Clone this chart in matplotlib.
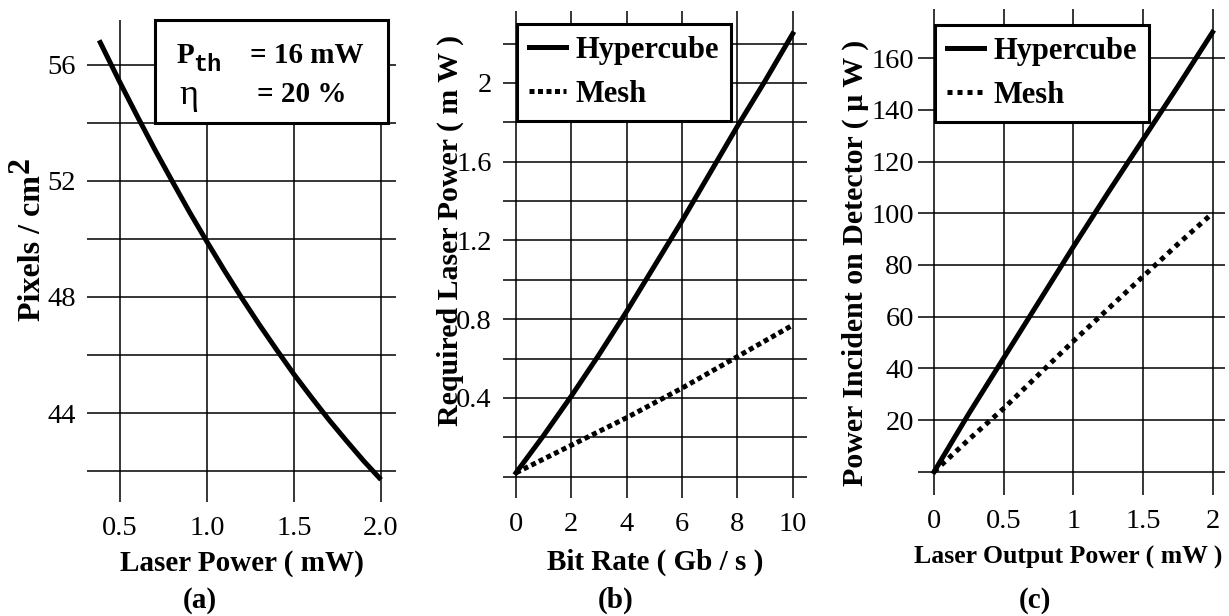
import matplotlib.pyplot as plt
from matplotlib.patches import Rectangle

plt.rcParams['font.family'] = ['Liberation Serif', 'DejaVu Serif']

# (a) pixel density vs laser power
power_a = [0.38, 0.5, 0.6, 0.7, 0.8, 0.9, 1.0, 1.1, 1.2, 1.3, 1.4, 1.5,
           1.6, 1.7, 1.8, 1.9, 2.0]
pixels_a = [56.85, 55.39, 54.22, 53.08, 51.99, 50.92, 49.9, 48.91, 47.96,
            47.05, 46.18, 45.33, 44.54, 43.77, 43.05, 42.35, 41.7]

# (b) required laser power vs bit rate
bitrate = [0, 1, 2, 3, 4, 5, 6, 7, 8, 9, 10]
hyper_b = [0.02, 0.21, 0.41, 0.62, 0.84, 1.07, 1.3, 1.54, 1.78, 2.01, 2.25]
mesh_b = [0.02, 0.09, 0.16, 0.23, 0.30, 0.375, 0.45, 0.53, 0.61, 0.69, 0.77]

# (c) power on detector vs laser output power
laser_c = [0, 0.25, 0.5, 0.75, 1.0, 1.25, 1.5, 1.75, 2.0]
hyper_c = [0, 22.5, 44, 65.5, 87, 108, 128.5, 149, 170]
mesh_c = [0, 12.5, 24.5, 37.5, 50.5, 63, 75.5, 88, 100]

BOLD = dict(fontsize=21, fontweight='bold')
LW = 3.6

fig = plt.figure(figsize=(12.29, 6.16), dpi=100)
ax_a = fig.add_axes([0.0708, 0.185, 0.2514, 0.7825])
ax_b = fig.add_axes([0.4093, 0.1916, 0.2474, 0.790])
ax_c = fig.add_axes([0.747, 0.1964, 0.2498, 0.789])


def style(ax, ypad=8):
    for s in ax.spines.values():
        s.set_visible(False)
    ax.grid(True, color='black', lw=1.1)
    ax.set_axisbelow(True)
    ax.tick_params(length=0, labelsize=20.5)
    ax.tick_params(axis='x', pad=10)
    ax.tick_params(axis='y', pad=ypad)


# ---- (a)
style(ax_a)
ax_a.plot(power_a, pixels_a, color='black', lw=LW, solid_capstyle='butt')
ax_a.set_xlim(0.31, 2.086)
ax_a.set_ylim(40.93, 57.55)
ax_a.set_xticks([0.5, 1.0, 1.5, 2.0], ['0.5', '1.0', '1.5', '2.0'])
ax_a.set_yticks(range(42, 57, 2), ['', '44', '', '48', '', '52', '', '56'])
ax_a.set_xlabel('Laser Power ( mW)', va='center', **BOLD)
ax_a.xaxis.set_label_coords(0.5, -0.127)
ax_a.set_ylabel('Pixels / cm', va='center', fontsize=23, fontweight='bold')
ax_a.yaxis.set_label_coords(-0.178, 0.527)
ax_a.text(-0.2136, 0.70, '2', rotation=90, ha='center', va='center',
          transform=ax_a.transAxes, fontsize=23, fontweight='bold')
ax_a.add_patch(Rectangle((0.22, 0.786), 0.754, 0.214, transform=ax_a.transAxes,
                         fc='white', ec='black', lw=2.2, zorder=4, clip_on=False))
ax_a.text(0.291, 0.911, 'P', transform=ax_a.transAxes, ha='left', va='baseline',
          zorder=5, **BOLD)
ax_a.text(0.345, 0.895, 'th', transform=ax_a.transAxes, ha='left', va='baseline',
          family='Liberation Mono', fontsize=17, fontweight='bold', zorder=5)
ax_a.text(0.527, 0.911, '= 16 mW', transform=ax_a.transAxes, ha='left',
          va='baseline', zorder=5, **BOLD)
ax_a.text(0.300, 0.825, 'η', transform=ax_a.transAxes, ha='left', va='baseline',
          fontsize=26, zorder=5)
ax_a.text(0.55, 0.83, '= 20 %', transform=ax_a.transAxes, ha='left',
          va='baseline', zorder=5, **BOLD)

# ---- (b)
style(ax_b)
ax_b.plot(bitrate, hyper_b, color='black', lw=LW, label='Hypercube')
ax_b.plot(bitrate, mesh_b, color='black', lw=LW, ls=(0, (1, 0.7)), label='Mesh')
ax_b.set_xlim(-0.47, 10.52)
ax_b.set_ylim(-0.108, 2.364)
ax_b.set_xticks(range(0, 11, 2))
ax_b.set_yticks([i * 0.2 for i in range(12)],
                ['', '', '0.4', '', '0.8', '', '1.2', '', '1.6', '', '2', ''])
ax_b.set_xlabel('Bit Rate ( Gb / s )', va='center', **BOLD)
ax_b.xaxis.set_label_coords(0.5, -0.133)
ax_b.set_ylabel('Required Laser Power ( m W )', va='center', fontsize=21.5,
                fontweight='bold')
ax_b.yaxis.set_label_coords(-0.174, 0.55)

# ---- (c)
style(ax_c, ypad=3)
ax_c.plot(laser_c, hyper_c, color='black', lw=LW, label='Hypercube')
ax_c.plot(laser_c, mesh_c, color='black', lw=LW, ls=(0, (1, 1)), label='Mesh')
ax_c.set_xlim(-0.115, 2.09)
ax_c.set_ylim(-9, 179)
ax_c.set_xticks([0, 0.5, 1, 1.5, 2], ['0', '0.5', '1', '1.5', '2'])
ax_c.set_yticks(range(0, 161, 20), [''] + [str(v) for v in range(20, 161, 20)])
ax_c.set_xlabel('Laser Output Power ( mW )', va='center', fontsize=18.5,
                fontweight='bold')
ax_c.xaxis.set_label_coords(0.49, -0.128)
ax_c.set_ylabel('Power Incident on Detector ( µ W )', va='center',
                fontsize=21.5, fontweight='bold')
ax_c.yaxis.set_label_coords(-0.205, 0.477)

for ax, x0, y1 in [(ax_b, 0.046, 0.975), (ax_c, 0.055, 0.968)]:
    leg = ax.legend(loc='upper left', bbox_to_anchor=(x0, y1), fancybox=False,
                    prop=dict(weight='bold', size=22), handlelength=1.2,
                    handletextpad=0.3, borderaxespad=0, borderpad=0.4,
                    labelspacing=0.5, framealpha=1)
    leg.get_frame().set_edgecolor('black')
    leg.get_frame().set_linewidth(2.2)

for x, s in [(200, '(a)'), (616, '(b)'), (1035, '(c)')]:
    fig.text(x / 1229, 1 - 600 / 616, s, ha='center', va='center', **BOLD)

fig.savefig('out.png', dpi=100)
